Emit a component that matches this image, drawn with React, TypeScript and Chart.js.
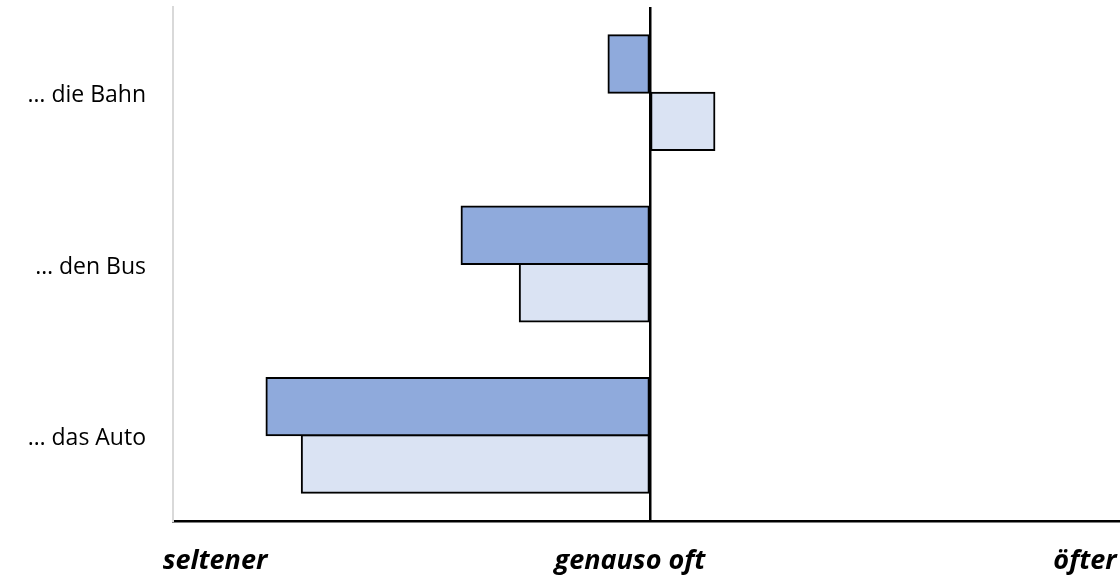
import React, { useEffect, useRef } from "react";
import { Chart, registerables } from "chart.js";

Chart.register(...registerables);

const categories = ["… die Bahn", "… den Bus", "… das Auto"];
const seriesDarkName = "Serie 1";
const seriesLightName = "Serie 2";
const seriesDark = [-8.7, -39.5, -80.4];
const seriesLight = [13.5, -27.3, -73.0];
const xLabels = ["seltener", "genauso oft", "öfter"];
const xLabelValues = [-91.2, -4.2, 91.2];

const bottomLabelsPlugin = {
  id: "bottomLabels",
  afterDraw(chart: any) {
    const ctx = chart.ctx;
    const xScale = chart.scales.x;
    const area = chart.chartArea;
    ctx.save();
    ctx.font = 'italic bold 27px "Open Sans"';
    ctx.fillStyle = "#000000";
    ctx.textAlign = "center";
    ctx.textBaseline = "alphabetic";
    xLabels.forEach((t, i) => {
      ctx.fillText(t, xScale.getPixelForValue(xLabelValues[i]), area.bottom + 48);
    });
    ctx.restore();
  },
};

export default function App() {
  const ref = useRef<HTMLCanvasElement | null>(null);
  useEffect(() => {
    if (!ref.current) return;
    const common = {
      borderColor: "#000000",
      borderWidth: 2,
      borderSkipped: false,
      inflateAmount: 1,
      categoryPercentage: 0.67,
      barPercentage: 1,
    };
    const chart = new Chart(ref.current, {
      type: "bar",
      data: {
        labels: categories,
        datasets: [
          { label: seriesDarkName, data: seriesDark, backgroundColor: "#8FAADC", ...common },
          { label: seriesLightName, data: seriesLight, backgroundColor: "#DAE3F3", ...common },
        ],
      },
      options: {
        indexAxis: "y",
        animation: false,
        responsive: false,
        maintainAspectRatio: false,
        layout: { padding: { top: 7, right: 13, bottom: 0, left: 0 } },
        plugins: {
          legend: { display: false },
          tooltip: { enabled: false },
        },
        scales: {
          x: {
            min: -100,
            max: 100,
            ticks: { display: false, stepSize: 50 },
            grid: {
              drawTicks: false,
              color: (c: any) => (c.tick && c.tick.value === 0 ? "#000000" : "rgba(0,0,0,0)"),
              lineWidth: (c: any) => (c.tick && c.tick.value === 0 ? 2.5 : 0),
            },
            border: { display: true, color: "#000000", width: 2.5 },
            afterFit: (scale: any) => {
              scale.height = 58;
              scale.paddingLeft = 0;
              scale.paddingRight = 0;
            },
          },
          y: {
            ticks: {
              color: "#000000",
              font: { family: '"Open Sans"', size: 23 },
              padding: 27,
              labelOffset: 3,
            },
            grid: { display: false, drawTicks: false },
            border: { display: true, color: "#D9D9D9", width: 2 },
            afterFit: (scale: any) => {
              scale.width = 173;
              scale.paddingTop = 0;
              scale.paddingBottom = 0;
            },
          },
        },
      },
      plugins: [bottomLabelsPlugin],
    });
    return () => chart.destroy();
  }, []);

  return (
    <div style={{ position: "fixed", left: 0, top: 0, width: 1120, height: 579, overflow: "hidden", background: "#fff" }}>
      <canvas ref={ref} width={1140} height={579} style={{ width: 1140, height: 579, display: "block" }} />
    </div>
  );
}
